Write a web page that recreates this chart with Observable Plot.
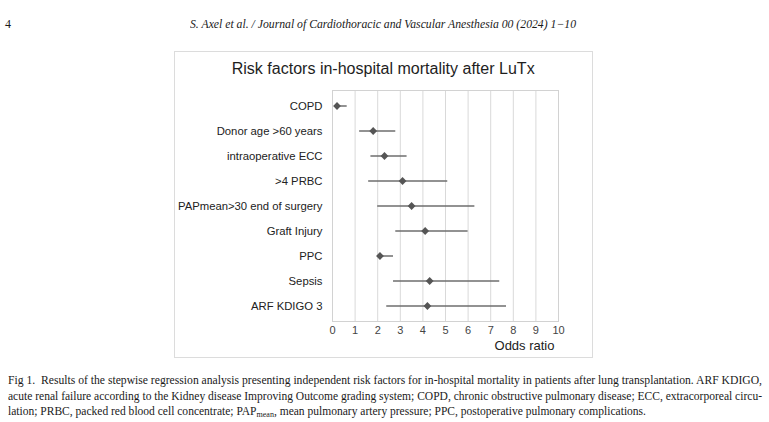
<!DOCTYPE html>
<html><head><meta charset="utf-8">
<script src="https://cdn.jsdelivr.net/npm/d3@7"></script>
<script src="https://cdn.jsdelivr.net/npm/@observablehq/plot@0.6"></script>
<style>
body{margin:0;background:#fff;}
#page{position:relative;width:769px;height:422px;overflow:hidden;background:#fff;}
.t{position:absolute;white-space:nowrap;transform-origin:0 50%;line-height:1;}
.serif{font-family:"Liberation Serif","Times New Roman",serif;color:#1a1a1a;font-size:12px;}
#box{position:absolute;left:174px;top:51px;width:419px;height:307px;border:1px solid #dcdcdc;box-sizing:border-box;}
#chart{position:absolute;left:174px;top:51px;}
#title{font-family:"Liberation Sans",Arial,sans-serif;color:#1e1e1e;font-size:16px;transform-origin:50% 50%;}
sub{font-size:70%;vertical-align:-0.25em;line-height:0;}
</style></head>
<body><div id="page">
<div class="t serif" id="pg" data-x="5" data-y="24">4</div>
<div class="t serif" id="hdr" data-x="190" data-y="24" data-w="386" style="font-style:italic">S. Axel et al. / Journal of Cardiothoracic and Vascular Anesthesia 00 (2024) 1−10</div>
<div id="box"></div>
<div id="chart"></div>
<div class="t" id="title" data-cx="383" data-y="69" data-w="303">Risk factors in-hospital mortality after LuTx</div>
<div class="t serif" id="c1" data-x="8" data-y="380" data-w="754">Fig 1.&nbsp; Results of the stepwise regression analysis presenting independent risk factors for in-hospital mortality in patients after lung transplantation. ARF KDIGO,</div>
<div class="t serif" id="c2" data-x="8" data-y="396" data-w="754">acute renal failure according to the Kidney disease Improving Outcome grading system; COPD, chronic obstructive pulmonary disease; ECC, extracorporeal circu-</div>
<div class="t serif" id="c3" data-x="8" data-y="411" data-w="638">lation; PRBC, packed red blood cell concentrate; PAP<sub>mean</sub>, mean pulmonary artery pressure; PPC, postoperative pulmonary complications.</div>
</div>
<script>
const factors = ["COPD","Donor age >60 years","intraoperative ECC",">4 PRBC","PAPmean>30 end of surgery","Graft Injury","PPC","Sepsis","ARF KDIGO 3"];
const oddsRatio = [0.2,1.8,2.3,3.1,3.5,4.1,2.1,4.3,4.2];
const ciLow = [0.1,1.2,1.7,1.6,2.0,2.8,2.05,2.7,2.4];
const ciHigh = [0.65,2.8,3.3,5.1,6.3,6.0,2.7,7.4,7.7];
const xTicks = [0,1,2,3,4,5,6,7,8,9,10];
const xLabel = ["Odds ratio"];

const rows = factors.map((f,i)=>({factor:f, or:oddsRatio[i], lo:ciLow[i], hi:ciHigh[i]}));

const chart = Plot.plot({
  width:419, height:307,
  marginLeft:158, marginRight:35, marginTop:39, marginBottom:37,
  x:{domain:[0,10]},
  y:{type:"band", domain:factors, padding:0},
  style:{fontFamily:"'Liberation Sans', Arial, sans-serif", fontSize:"12px", color:"#333", background:"transparent", overflow:"visible"},
  marks:[
    Plot.gridX(xTicks,{stroke:"#d9d9d9",strokeOpacity:1}),
    Plot.frame({stroke:"#d2d2d2"}),
    Plot.axisY({tickSize:0,tickPadding:10,fontSize:11.3,label:null,fill:"#222"}),
    Plot.axisX(xTicks,{tickSize:0,tickPadding:5,fontSize:11,label:null,fill:"#444"}),
    Plot.text(xLabel,{text:d=>d,frameAnchor:"bottom-right",textAnchor:"end",dy:28,dx:-4,fontSize:13,fill:"#222"}),
    Plot.ruleY(rows,{y:"factor",x1:"lo",x2:"hi",stroke:"#6e6e6e",strokeWidth:1.5}),
    Plot.dot(rows,{y:"factor",x:"or",symbol:"diamond2",r:3.5,fill:"#555",stroke:"none"})
  ]
});
document.getElementById("chart").appendChild(chart);

document.querySelectorAll(".t").forEach(el=>{
  const r = el.getBoundingClientRect();
  const h = r.height;
  el.style.top = (+el.dataset.y - h/2) + "px";
  let w = r.width;
  if (el.dataset.w) {
    const s = +el.dataset.w / w;
    el.style.transform = `scaleX(${s})`;
  }
  if (el.dataset.cx) {
    el.style.left = (+el.dataset.cx - w/2) + "px";
  } else {
    el.style.left = el.dataset.x + "px";
  }
});
</script>
</body></html>
